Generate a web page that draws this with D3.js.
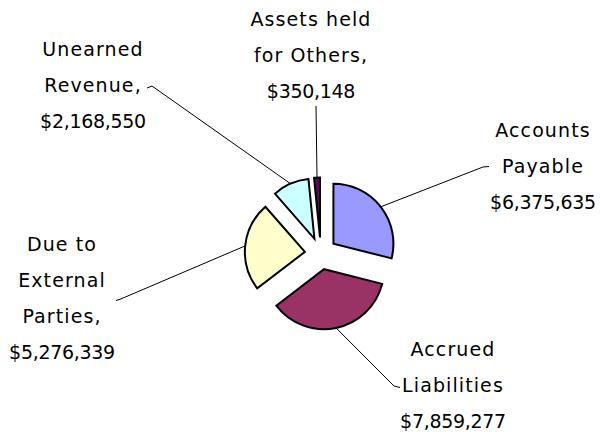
<!DOCTYPE html>
<html>
<head>
<meta charset="utf-8">
<script src="https://cdn.jsdelivr.net/npm/d3@7"></script>
<style>
body { margin: 0; background: #fff; }
svg { display: block; }
.lbl { font-family: "DejaVu Sans", sans-serif; font-size: 19px; fill: #000; }
.lbl .name { letter-spacing: 1.1px; }
.lbl .value { letter-spacing: -0.3px; }
.leader { fill: none; stroke: #000; stroke-width: 1; }
.slice { stroke: #000; stroke-width: 2; stroke-linejoin: miter; }
</style>
</head>
<body>
<div id="chart"></div>
<script>

var categories = ["Accounts Payable", "Accrued Liabilities", "Due to External Parties", "Unearned Revenue", "Assets held for Others"];
var values = [6375635, 7859277, 5276339, 2168550, 350148];
var colors = ["#9999ff", "#993366", "#ffffcc", "#ccffff", "#660066"];

// name part of each label, as wrapped in the picture
var labelNames = [
    ["Accounts", "Payable"],
    ["Accrued", "Liabilities"],
    ["Due to", "External", "Parties,"],
    ["Unearned", "Revenue,"],
    ["Assets held", "for Others,"]
];

// label layout: centre x, first baseline y, leader elbow and end
var labelPos = [[543, 136.5], [453, 355.5], [62, 251], [93, 55.5], [311, 25.5]];
var leaderElbow = [[483, 167], [394, 386], [120, 299.3], [152, 86], [316, 106]];
var leaderEnd = [[489, 166.5], [400, 387.5], [116, 300.5], [147, 88], [316, 106]];

var width = 600;
var height = 432;
var cx = 320.8;
var cy = 253.5;
var radius = 60;
var explode = 16;
var lineHeight = 36;

var fmt = d3.format("$,");

var svg = d3.select("#chart")
    .append("svg")
    .attr("width", width)
    .attr("height", height);

var pie = d3.pie().sort(null).value(function(d) { return d; });
var arcs = pie(values);

var arc = d3.arc().innerRadius(0).outerRadius(radius);
var rim = d3.arc().innerRadius(radius).outerRadius(radius);

function shift(d) {
    var a = (d.startAngle + d.endAngle) / 2;
    return [explode * Math.sin(a), -explode * Math.cos(a)];
}

var g = svg.append("g")
    .attr("transform", "translate(" + cx + "," + cy + ")");

// leader lines first so slices sit on top
svg.selectAll(".leader")
    .data(arcs).enter()
    .append("polyline")
    .attr("class", "leader")
    .attr("points", function(d, i) {
        var s = shift(d);
        var c = rim.centroid(d);
        var p0 = [cx + s[0] + c[0], cy + s[1] + c[1]];
        return [p0, leaderElbow[i], leaderEnd[i]].map(function(p) { return p.join(","); }).join(" ");
    });

g.selectAll(".slice")
    .data(arcs).enter()
    .append("path")
    .attr("class", "slice")
    .attr("d", arc)
    .attr("fill", function(d, i) { return colors[i]; })
    .attr("transform", function(d) {
        var s = shift(d);
        return "translate(" + s[0] + "," + s[1] + ")";
    });

var labels = svg.selectAll(".lbl")
    .data(arcs).enter()
    .append("text")
    .attr("class", "lbl")
    .attr("text-anchor", "middle")
    .attr("x", function(d, i) { return labelPos[i][0]; })
    .attr("y", function(d, i) { return labelPos[i][1]; });

labels.each(function(d, i) {
    var t = d3.select(this);
    labelNames[i].forEach(function(line, j) {
        t.append("tspan")
            .attr("class", "name")
            .attr("x", labelPos[i][0])
            .attr("dy", j === 0 ? 0 : lineHeight)
            .text(line);
    });
    t.append("tspan")
        .attr("class", "value")
        .attr("x", labelPos[i][0])
        .attr("dy", lineHeight)
        .text(fmt(values[i]));
});

</script>
</body>
</html>
